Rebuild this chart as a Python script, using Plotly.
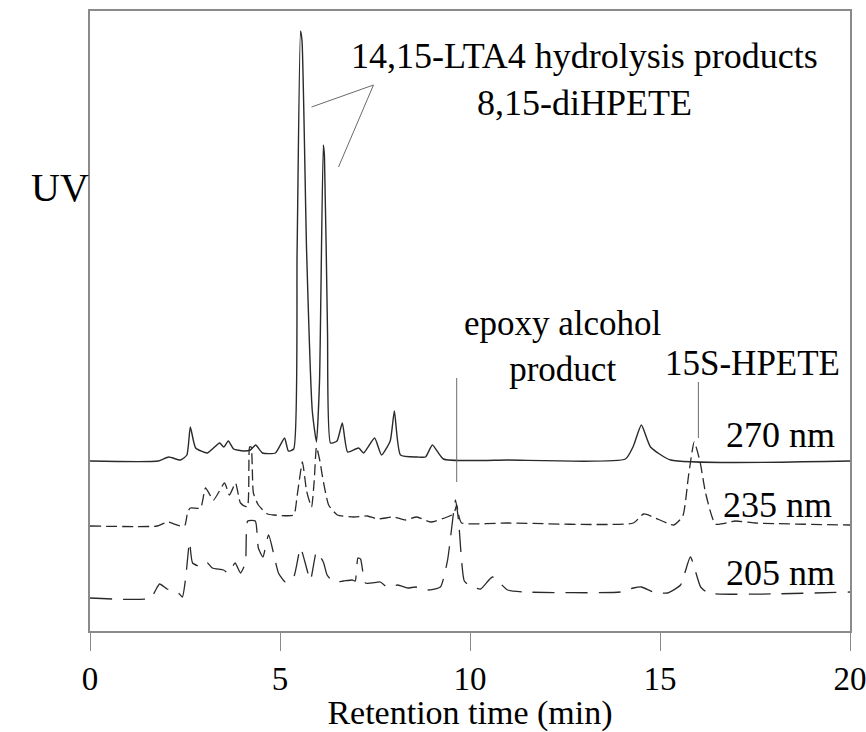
import plotly.graph_objects as go

# Retention time (min) and UV response (offset, arbitrary units) for each detection wavelength
t_270 = [0, 1.8, 2.07, 2.38, 2.55, 2.64, 2.78, 3.09, 3.41, 3.52, 3.64, 3.78, 4.04, 4.22, 4.36,
         4.54, 4.88, 5.12, 5.22, 5.36, 5.45, 5.54, 5.58, 5.7, 5.85, 5.96, 6.04, 6.14, 6.17, 6.25,
         6.33, 6.5, 6.64, 6.78, 7.07, 7.2, 7.49, 7.67, 7.9, 8.01, 8.17, 8.62, 8.83, 9.01, 9.3,
         11.0, 14.09, 14.3, 14.51, 14.75, 15.28, 20]
uv_270 = [17.0, 17.0, 17.4, 17.1, 17.6, 20.4, 18.3, 17.8, 18.8, 18.4, 19.0, 18.2, 18.0, 18.1, 18.6,
          17.8, 17.8, 19.3, 18.0, 18.2, 38.0, 60.0, 59.0, 38.0, 22.0, 18.9, 25.0, 48.6, 47.5, 30.0,
          18.8, 19.0, 20.8, 17.9, 18.3, 17.8, 19.3, 17.6, 19.0, 22.0, 17.6, 17.4, 17.4, 18.6, 17.2,
          17.1, 17.2, 18.5, 20.6, 18.4, 17.1, 17.0]

t_235 = [0, 1.77, 2.04, 2.38, 2.5, 2.57, 2.64, 2.91, 3.04, 3.25, 3.54, 3.67, 3.83, 3.96, 4.14,
         4.2, 4.24, 4.3, 4.43, 4.67, 4.83, 5.36, 5.45, 5.59, 5.7, 5.83, 5.9, 5.96, 6.05, 6.12,
         6.28, 6.51, 6.94, 7.3, 7.57, 7.99, 8.3, 8.6, 8.96, 9.4, 9.52, 9.6, 9.65, 9.7, 9.78,
         11.0, 14.3, 14.57, 15.36, 15.6, 15.75, 15.9, 16.05, 16.2, 16.46, 16.99, 17.5, 20]
uv_235 = [10.5, 10.5, 10.9, 10.5, 10.6, 11.9, 12.3, 12.3, 14.3, 13.1, 14.8, 13.6, 14.8, 12.8, 12.4,
          18.4, 18.4, 13.8, 12.6, 11.7, 11.6, 11.6, 13.5, 16.9, 14.0, 12.4, 15.0, 18.4, 17.0, 15.4,
          12.6, 11.6, 11.4, 11.5, 11.2, 11.4, 11.1, 11.4, 10.9, 11.4, 11.6, 12.0, 12.6, 11.6, 10.8,
          10.8, 10.8, 11.7, 10.6, 11.5, 15.5, 18.9, 17.0, 13.8, 10.7, 11.0, 10.8, 10.6]

t_205 = [0, 1.59, 1.83, 2.03, 2.3, 2.43, 2.52, 2.62, 2.7, 2.95, 3.09, 3.22, 3.51, 3.64, 3.82,
         3.96, 4.09, 4.15, 4.35, 4.43, 4.55, 4.7, 4.96, 5.14, 5.36, 5.54, 5.8, 5.96, 6.14, 6.24,
         6.41, 6.67, 6.9, 6.98, 7.05, 7.12, 7.25, 7.64, 7.78, 7.9, 8.1, 8.36, 8.57, 8.88, 9.22,
         9.41, 9.62, 9.7, 9.85, 10.01, 10.28, 10.59, 10.99, 11.41, 13.96, 14.3, 14.51, 14.83,
         15.2, 15.54, 15.8, 16.07, 16.28, 20]
uv_205 = [3.3, 3.3, 4.7, 4.2, 3.9, 3.4, 5.4, 8.9, 6.8, 6.4, 6.8, 6.3, 6.1, 5.8, 6.8,
          5.8, 6.8, 11.0, 11.0, 8.3, 7.4, 9.6, 5.8, 4.9, 5.4, 8.3, 5.1, 7.9, 6.9, 5.6,
          4.9, 5.0, 5.1, 5.0, 7.3, 7.2, 4.8, 4.9, 4.5, 4.4, 4.6, 4.3, 4.4, 4.1, 4.4,
          7.1, 13.1, 11.0, 5.0, 4.5, 4.2, 5.4, 4.1, 3.9, 3.9, 4.3, 4.4, 3.9,
          3.8, 4.6, 7.4, 4.4, 3.8, 3.9]

x_ticks = [0, 5, 10, 15, 20]

# Peak labels: text, position (min, response), font size
peak_labels = ["14,15-LTA4 hydrolysis products<br>8,15-diHPETE", "epoxy alcohol<br>product", "15S-HPETE"]
peak_label_x = [13.0, 12.45, 17.43]
peak_label_y = [55.2, 28.5, 26.8]
peak_label_size = [36, 35, 35]

# Wavelength labels next to each trace
wl_labels = ["270 nm", "235 nm", "205 nm"]
wl_label_x = [18.17, 18.1, 18.17]
wl_label_y = [19.6, 12.6, 5.8]

# Leader lines from labels to peaks: (x0, y0, x1, y1)
leaders = [
    (7.46, 54.6, 5.83, 52.4),
    (7.46, 54.6, 6.54, 46.4),
    (9.65, 25.3, 9.65, 14.9),
    (16.01, 24.9, 16.01, 19.3),
]

serif = "Liberation Serif, Times New Roman, serif"
ink = "#2a2a2a"
frame = "#8a8a8a"

fig = go.Figure()
fig.add_trace(go.Scatter(x=t_270, y=uv_270, mode="lines", name="270 nm",
                         line=dict(color=ink, width=1.4, shape="spline", smoothing=0.5)))
fig.add_trace(go.Scatter(x=t_235, y=uv_235, mode="lines", name="235 nm",
                         line=dict(color=ink, width=1.3, dash="11px,5px", shape="spline", smoothing=0.5)))
fig.add_trace(go.Scatter(x=t_205, y=uv_205, mode="lines", name="205 nm",
                         line=dict(color=ink, width=1.3, dash="22px,11px", shape="spline", smoothing=0.5)))

for x0, y0, x1, y1 in leaders:
    fig.add_shape(type="line", xref="x", yref="y", x0=x0, y0=y0, x1=x1, y1=y1,
                  line=dict(color="#6a6a6a", width=1))

for txt, x, y, s in zip(peak_labels, peak_label_x, peak_label_y, peak_label_size):
    fig.add_annotation(x=x, y=y, xref="x", yref="y", text=txt, showarrow=False,
                       xanchor="center", yanchor="middle", align="center",
                       font=dict(family=serif, size=s, color="black"))

for txt, x, y in zip(wl_labels, wl_label_x, wl_label_y):
    fig.add_annotation(x=x, y=y, xref="x", yref="y", text=txt, showarrow=False,
                       xanchor="center", yanchor="middle",
                       font=dict(family=serif, size=36, color="black"))

fig.add_annotation(x=-0.04, y=0.715, xref="paper", yref="paper", text="UV", showarrow=False,
                   xanchor="center", yanchor="middle",
                   font=dict(family=serif, size=40, color="black"))

fig.update_layout(
    width=866, height=732,
    margin=dict(l=90, r=16, t=11, b=101, autoexpand=False),
    paper_bgcolor="white", plot_bgcolor="white",
    showlegend=False,
    xaxis=dict(range=[0, 20], tickvals=x_ticks, ticktext=[str(v) for v in x_ticks],
               ticks="outside", ticklen=18, tickcolor=frame, tickwidth=1.2,
               ticklabeloverflow="allow", automargin=False,
               showline=True, linecolor=frame, linewidth=1.5, mirror=True,
               showgrid=False, zeroline=False,
               tickfont=dict(family=serif, size=33, color="black"),
               title=dict(text="Retention time (min)", standoff=10,
                          font=dict(family=serif, size=34, color="black"))),
    yaxis=dict(range=[0, 62], showticklabels=False, ticks="", automargin=False,
               showline=True, linecolor=frame, linewidth=1.5, mirror=True,
               showgrid=False, zeroline=False),
)

fig.write_html("out.html")
